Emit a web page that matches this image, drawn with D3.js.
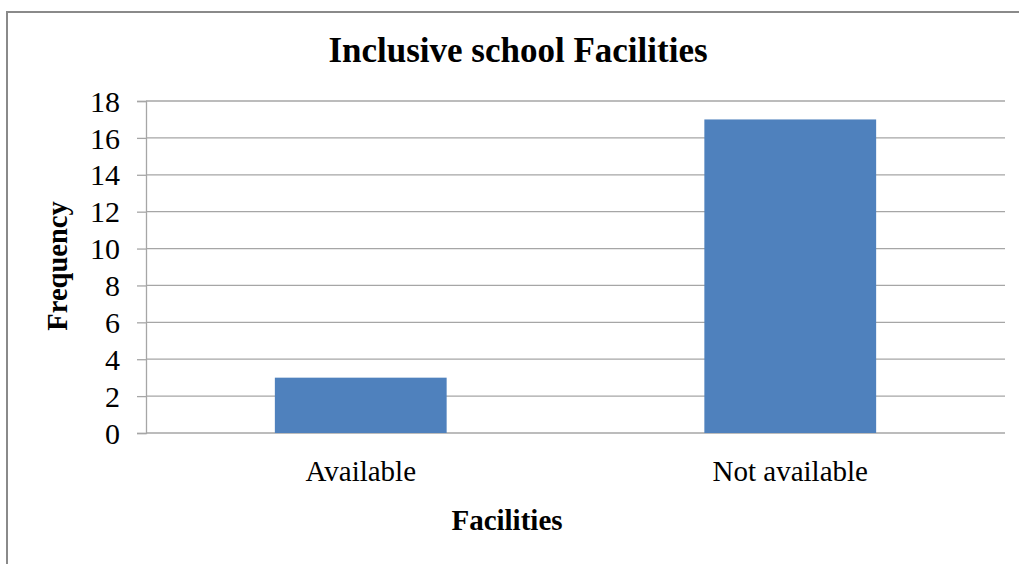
<!DOCTYPE html>
<html>
<head>
<meta charset="utf-8">
<script src="https://cdn.jsdelivr.net/npm/d3@7"></script>
<style>
  body { margin: 0; background: #fff; }
  svg text { font-family: "Liberation Serif", "Times New Roman", serif; fill: #000; }
</style>
</head>
<body>
<div id="okvir"></div>
<script>
// podaci
var categories = ["Available", "Not available"];
var frequency = [3, 17];
var yTicks = [0, 2, 4, 6, 8, 10, 12, 14, 16, 18];

var width = 1019;
var height = 564;
var margin = { top: 101, right: 14, bottom: 131, left: 146 };

var data = categories.map(function (c, i) { return { facility: c, count: frequency[i] }; });

var svg = d3.select("#okvir")
    .append("svg")
    .attr("width", width)
    .attr("height", height);

// okvir grafikona
svg.append("rect")
    .attr("x", 7)
    .attr("y", 12)
    .attr("width", width + 20)
    .attr("height", height + 20)
    .attr("fill", "none")
    .attr("stroke", "#8a8a8a")
    .attr("stroke-width", 2);

var x = d3.scaleBand()
    .domain(categories)
    .range([margin.left, width - margin.right])
    .paddingInner(0.6)
    .paddingOuter(0.3);

var y = d3.scaleLinear()
    .domain([0, 18])
    .range([height - margin.bottom, margin.top]);

// mreža
svg.append("g")
    .selectAll("line")
    .data(yTicks)
    .enter()
    .append("line")
    .attr("x1", margin.left)
    .attr("x2", width - margin.right)
    .attr("y1", d => y(d))
    .attr("y2", d => y(d))
    .attr("stroke", "#a6a6a6")
    .attr("stroke-width", 1.3);

// y os
var yAxis = svg.append("g")
    .attr("transform", "translate(" + margin.left + ",0)")
    .call(d3.axisLeft(y).tickValues(yTicks).tickSize(9).tickPadding(17));
yAxis.select(".domain").attr("stroke", "#a6a6a6").attr("stroke-width", 1.3);
yAxis.selectAll(".tick line").attr("stroke", "#a6a6a6").attr("stroke-width", 1.3);
yAxis.selectAll("text")
    .style("font-family", "Liberation Serif, serif")
    .style("font-size", "30px")
    .attr("dy", "0.34em");

// x os oznake
var xAxis = svg.append("g")
    .attr("transform", "translate(0," + (height - margin.bottom) + ")")
    .call(d3.axisBottom(x).tickSize(0).tickPadding(0));
xAxis.select(".domain").remove();
xAxis.selectAll("text")
    .attr("y", 48)
    .attr("dy", 0)
    .style("font-family", "Liberation Serif, serif")
    .style("font-size", "29px");

// stupci
svg.append("g")
    .selectAll("rect")
    .data(data)
    .enter()
    .append("rect")
    .attr("x", d => x(d.facility))
    .attr("y", d => y(d.count))
    .attr("width", x.bandwidth())
    .attr("height", d => y(0) - y(d.count))
    .attr("fill", "#4f81bd");

// naslov
svg.append("text")
    .attr("x", 518)
    .attr("y", 62)
    .attr("text-anchor", "middle")
    .style("font-size", "35px")
    .style("font-weight", "bold")
    .text("Inclusive school Facilities");

// naslov x osi
svg.append("text")
    .attr("x", 507)
    .attr("y", 530)
    .attr("text-anchor", "middle")
    .style("font-size", "29px")
    .style("font-weight", "bold")
    .text("Facilities");

// naslov y osi
svg.append("text")
    .attr("transform", "translate(67,266) rotate(-90)")
    .attr("text-anchor", "middle")
    .style("font-size", "28.5px")
    .style("font-weight", "bold")
    .text("Frequency");
</script>
</body>
</html>
